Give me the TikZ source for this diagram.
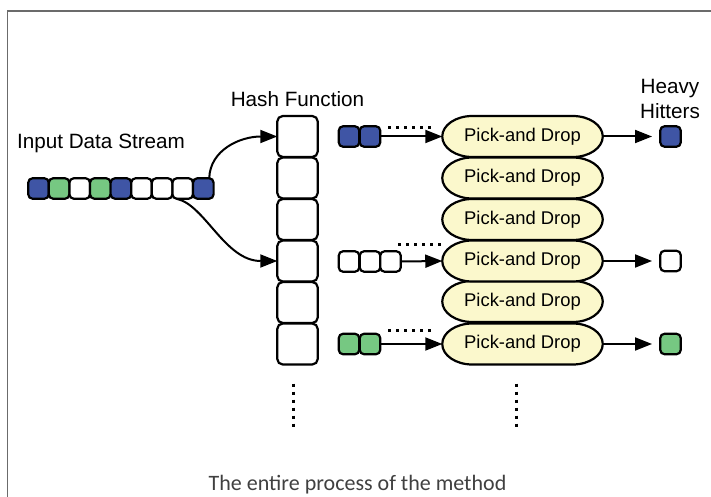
\documentclass[tikz,border=0pt]{standalone}
\usepackage{fontspec}
\setmainfont{Liberation Sans}
\newfontfamily\capfont{Carlito}
\usetikzlibrary{arrows.meta}
\definecolor{cblue}{HTML}{3F55A5}
\definecolor{cgreen}{HTML}{76C882}
\definecolor{cyellow}{HTML}{FBF8CC}
\tikzset{
 x=1pt,y=-1pt,
 cell/.style={draw=black,line width=2.2pt,rounded corners=4.5pt,minimum width=20.6pt,minimum height=20.6pt,inner sep=0pt,outer sep=0pt},
 bluec/.style={cell,fill=cblue},
 greenc/.style={cell,fill=cgreen},
 whitec/.style={cell,fill=white},
 hashbox/.style={draw=black,line width=2.2pt,rounded corners=5.5pt,fill=white,minimum width=40.5pt,minimum height=41pt,inner sep=0pt,outer sep=0pt},
 pick/.style={minimum width=160.5pt,minimum height=41pt,inner sep=0pt,outer sep=0pt,font=\fontsize{18.4}{20}\selectfont},
 pickbg/.style={draw=black,line width=2.2pt,fill=cyellow},
 lab/.style={font=\fontsize{20.7}{23}\selectfont,inner sep=0pt,anchor=base},
 conn/.style={line width=2pt,-{Triangle[length=17pt,width=13pt]}},
 dotsl/.style={line width=3pt,dash pattern=on 3pt off 5pt},
 frameline/.style={draw=black!58,line width=1.8pt},
}
\begin{document}
\begin{tikzpicture}
\useasboundingbox (0,0) rectangle (711,497);
\fill[white] (0,0) rectangle (711,497);
\coordinate (fa) at (7.5,497); \coordinate (fb) at (7.5,11); \coordinate (fc) at (711,11);
\draw[frameline] (fa) -- (fb) -- (fc);
% stream
\foreach \n/\s [count=\i from 0] in {a/bluec,b/greenc,c/whitec,d/greenc,e/bluec,f/whitec,g/whitec,h/whitec,k/bluec}{
 \node[\s] (s\n) at (38.5+20.6*\i,188.5) {};
}
% hash
\foreach \i/\y in {1/136.5,2/178,3/219.5,4/261,5/302.5,6/344}{
 \node[hashbox] (h\i) at (297.5,\y) {};
}
% pick and drop
\foreach \i/\y in {1/136.5,2/178,3/219.5,6/344,5/301.5,4/261}{
 \filldraw[pickbg] (442.25,\y) .. controls (442.25,\y-11.3) and (455.7,\y-20.5) .. (472.25,\y-20.5)
   -- (572.75,\y-20.5) .. controls (589.3,\y-20.5) and (602.75,\y-11.3) .. (602.75,\y)
   .. controls (602.75,\y+11.3) and (589.3,\y+20.5) .. (572.75,\y+20.5)
   -- (472.25,\y+20.5) .. controls (455.7,\y+20.5) and (442.25,\y+11.3) .. (442.25,\y) -- cycle;
 \node[pick] (p\i) at (522.5,\y) {Pick-and Drop};
}
% queues
\node[bluec] (q1a) at (349,136.5) {};
\node[bluec] (q1b) at (370,136.5) {};
\node[whitec] (q2a) at (349,261.5) {};
\node[whitec] (q2b) at (370,261.5) {};
\node[whitec] (q2c) at (390.5,261.5) {};
\node[greenc] (q3a) at (349,344) {};
\node[greenc] (q3b) at (370,344) {};
% outputs
\node[bluec] (o1) at (670.5,136.5) {};
\node[whitec] (o2) at (670.5,261) {};
\node[greenc] (o3) at (670.5,344) {};
% connectors
\draw[conn] (sk.60) .. controls (210,150) and (240,136.5) .. (h1.west);
\draw[conn] (sh.240) .. controls (205,205) and (225,261) .. (h4.west);
\draw[conn] (q1b.east) -- (p1.west);
\draw[conn] (q2c.east) -- (p4.west);
\draw[conn] (q3b.east) -- (p6.west);
\coordinate (e1) at (652,136.5); \coordinate (e2) at (652,261); \coordinate (e3) at (652,344);
\draw[conn] (p1.east) -- (e1);
\draw[conn] (p4.east) -- (e2);
\draw[conn] (p6.east) -- (e3);
% dots
\coordinate (d1a) at (388,128); \coordinate (d1b) at (431,128);
\coordinate (d2a) at (398,244); \coordinate (d2b) at (441,244);
\coordinate (d3a) at (388,330.5); \coordinate (d3b) at (431,330.5);
\coordinate (d4a) at (293.5,383.5); \coordinate (d4b) at (293.5,426.5);
\coordinate (d5a) at (516,383.5); \coordinate (d5b) at (516,426.5);
\draw[dotsl] (d1a) -- (d1b);
\draw[dotsl] (d2a) -- (d2b);
\draw[dotsl] (d3a) -- (d3b);
\draw[dotsl] (d4a) -- (d4b);
\draw[dotsl] (d5a) -- (d5b);
% labels
\node[lab] (l1) at (101,148.5) {Input Data Stream};
\node[lab] (l2) at (297.5,107) {Hash Function};
\node[lab] (l3) at (670,94) {Heavy};
\node[lab] (l4) at (670,119) {Hitters};
\node[font=\capfont\fontsize{22}{25}\selectfont,text=black!75,inner sep=0pt,anchor=base] (cap) at (357.5,490) {The entire process of the method};
\end{tikzpicture}
\end{document}
